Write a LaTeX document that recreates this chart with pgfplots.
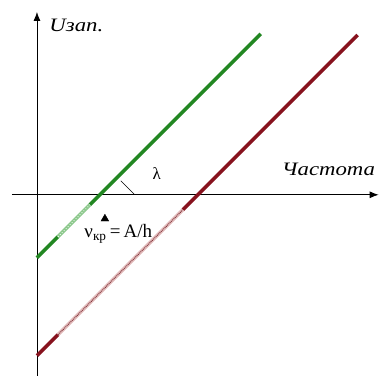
\documentclass[border=0pt]{standalone}
\usepackage{pgfplots}
\pgfplotsset{compat=1.18}
\usepackage{fontspec}
\setmainfont{Liberation Serif}
\newfontfamily\wideit[FakeStretch=1.2]{Liberation Serif}
\usetikzlibrary{arrows.meta}
\definecolor{lgreen}{RGB}{34,135,34}
\definecolor{lgreenpale}{RGB}{140,200,140}
\definecolor{lred}{RGB}{135,18,30}
\definecolor{lredpale}{RGB}{225,185,185}
\begin{document}
\begin{tikzpicture}
\begin{axis}[
  scale only axis, width=379pt, height=376pt,
  xmin=0, xmax=379, ymin=-376, ymax=0,
  axis lines=none, clip=false,
]
% frame of the drawing
\addplot[draw=none] coordinates {(0,-376) (379,0)};
% coordinate axes
\addplot[black, line width=0.8pt, -{Latex[length=9pt,width=7pt]}] coordinates {(37,-376) (37,-12)};
\addplot[black, line width=0.8pt, -{Latex[length=9pt,width=7pt]}] coordinates {(12,-195) (379,-195)};
% green line: solid parts
\addplot[lgreen, line width=3.6pt] coordinates {(37,-258) (58,-237)};
\addplot[lgreen, line width=3.6pt] coordinates {(90,-205) (261,-34)};
% green line: faded part
\addplot[lgreenpale, line width=3.6pt] coordinates {(58,-237) (90,-205)};
\addplot[white, line width=0.8pt, dotted] coordinates {(58,-237) (90,-205)};
% red line: solid parts
\addplot[lred, line width=3.6pt] coordinates {(37,-356) (58,-335)};
\addplot[lred, line width=3.6pt] coordinates {(183,-210) (358,-35)};
% red line: faded part
\addplot[lredpale, line width=3.6pt] coordinates {(58,-335) (183,-210)};
\addplot[lred!70!black, line width=0.8pt, densely dotted] coordinates {(58,-335) (183,-210)};
% angle mark
\addplot[black, line width=0.5pt] coordinates {(121,-181) (135,-195)};
% threshold frequency marker
\addplot[only marks, mark=triangle*, mark size=4.5pt, black] coordinates {(105,-219)};
% labels
\node[anchor=west, font=\fontsize{19}{20}\selectfont\wideit\itshape] at (axis cs:46,-25) {Uзап.};
\node[anchor=east, font=\fontsize{19}{20}\selectfont\wideit\itshape] at (axis cs:379,-170) {Частота};
\node[font=\fontsize{17}{19}\selectfont] at (axis cs:157,-174) {λ};
\node[anchor=west, font=\fontsize{19}{21}\selectfont] at (axis cs:81,-234) {ν\textsubscript{кр}\,=\,A/h};
\end{axis}
\end{tikzpicture}
\end{document}
